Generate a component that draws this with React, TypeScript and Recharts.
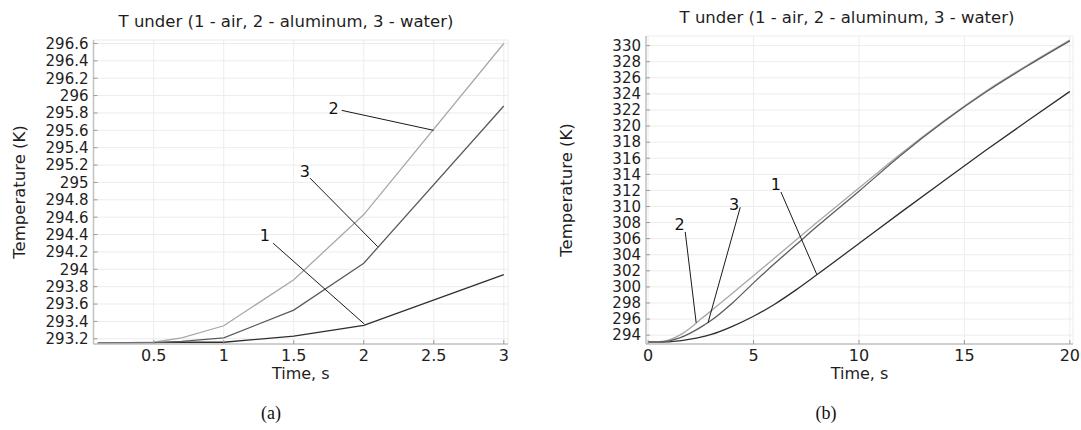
import { LineChart, Line, XAxis, YAxis, CartesianGrid, ReferenceLine, ReferenceDot } from "recharts";

// (a) first 3 s
const timeA = [0.1, 0.5, 0.7, 1, 1.5, 2, 3];
const airA = [293.15, 293.155, 293.16, 293.16, 293.23, 293.355, 293.94];
const aluminumA = [293.15, 293.16, 293.21, 293.35, 293.88, 294.63, 296.6];
const waterA = [293.15, 293.155, 293.17, 293.21, 293.53, 294.07, 295.88];

// (b) full 20 s
const timeB = [0, 0.5, 1, 1.5, 2, 2.5, 3, 4, 5, 6, 7, 8, 10, 12, 14, 16, 18, 20];
const airB = [293.15, 293.15, 293.17, 293.3, 293.5, 293.75, 294.1, 295.1, 296.35, 297.85, 299.6, 301.5, 305.4, 309.3, 313.15, 316.95, 320.65, 324.3];
const aluminumB = [293.15, 293.18, 293.4, 294.0, 294.9, 296.0, 297.05, 299.2, 301.4, 303.6, 305.8, 308.0, 312.3, 316.6, 320.6, 324.3, 327.6, 330.7];
const waterB = [293.15, 293.16, 293.3, 293.65, 294.25, 295.0, 295.85, 298.0, 300.5, 302.9, 305.2, 307.5, 311.9, 316.4, 320.5, 324.2, 327.5, 330.6];

const xTicksA = [0.5, 1, 1.5, 2, 2.5, 3];
const yTicksA = [293.2, 293.4, 293.6, 293.8, 294, 294.2, 294.4, 294.6, 294.8, 295, 295.2, 295.4, 295.6, 295.8, 296, 296.2, 296.4, 296.6];
const xTicksB = [0, 5, 10, 15, 20];
const yTicksB = [294, 296, 298, 300, 302, 304, 306, 308, 310, 312, 314, 316, 318, 320, 322, 324, 326, 328, 330];

// curve numbers and their leader lines (data coords: [t, T])
const curveNames = ["1", "2", "3"];
const labelPosA = [[1.294, 294.39], [1.785, 295.85], [1.58, 295.13]];
const leaderA = [
  [[1.353, 294.3], [2.004, 293.37]],
  [[1.842, 295.83], [2.499, 295.6]],
  [[1.616, 295.05], [2.1, 294.26]],
];
const labelPosB = [[6.06, 312.7], [1.49, 307.8], [4.08, 310.3]];
const leaderB = [
  [[6.3, 311.8], [8.0, 301.55]],
  [[1.76, 306.83], [2.28, 295.54]],
  [[4.37, 309.9], [2.84, 295.54]],
];

const TITLE = "T under (1 - air, 2 - aluminum, 3 - water)";
const FONT = "'DejaVu Sans', sans-serif";
const AXIS = "#c2c2c2";
const colors = ["#2e2e2e", "#a8a8a8", "#5c5c5c"];

function buildRows(t: number[], a: number[], b: number[], c: number[]) {
  return t.map((v, i) => ({ t: v, air: a[i], aluminum: b[i], water: c[i] }));
}

const fmtA = (v: number) => String(Number(v.toFixed(1)));

interface PanelProps {
  left: number;
  width: number;
  rows: any[];
  xDomain: [number, number];
  yDomain: [number, number];
  xTicks: number[];
  yTicks: number[];
  yAxisWidth: number;
  top: number;
  right: number;
  yLabelOffset: number;
  yFmt?: (v: number) => string;
  labels: number[][];
  leaders: number[][][];
  curve: "linear" | "monotone";
}

function Panel(p: PanelProps) {
  const tickStyle = { fill: "#1e1e1e", fontSize: 15, fontFamily: FONT };
  return (
    <div style={{ position: "absolute", left: p.left, top: 0 }}>
      <LineChart
        width={p.width}
        height={430}
        data={p.rows}
        margin={{ top: p.top, right: p.right, left: 0, bottom: 46 }}
      >
        <CartesianGrid stroke="#ececec" />
        <XAxis
          dataKey="t"
          type="number"
          domain={p.xDomain}
          ticks={p.xTicks}
          allowDataOverflow
          interval={0}
          height={40}
          tickSize={-4}
          tickMargin={10}
          axisLine={{ stroke: AXIS, strokeWidth: 1.5 }}
          tickLine={{ stroke: "#9a9a9a" }}
          tick={{ ...tickStyle, fontSize: 16 }}
          label={{ value: "Time, s", position: "insideBottom", offset: 5, fill: "#1e1e1e", fontSize: 16, fontFamily: FONT }}
        />
        <XAxis
          xAxisId="top"
          orientation="top"
          type="number"
          domain={p.xDomain}
          ticks={p.xTicks}
          allowDataOverflow
          interval={0}
          height={0}
          tick={false}
          tickSize={-4}
          axisLine={{ stroke: AXIS, strokeWidth: 1.5 }}
          tickLine={{ stroke: "#9a9a9a" }}
        />
        <YAxis
          type="number"
          domain={p.yDomain}
          ticks={p.yTicks}
          allowDataOverflow
          interval={0}
          width={p.yAxisWidth}
          tickSize={-4}
          tickMargin={9}
          tickFormatter={p.yFmt}
          axisLine={{ stroke: AXIS, strokeWidth: 1.5 }}
          tickLine={{ stroke: "#9a9a9a" }}
          tick={tickStyle}
          label={{
            value: "Temperature (K)",
            angle: -90,
            position: "insideLeft",
            offset: p.yLabelOffset,
            fill: "#1e1e1e",
            fontSize: 16.5,
            fontFamily: FONT,
            style: { textAnchor: "middle" },
          }}
        />
        <YAxis
          yAxisId="right"
          orientation="right"
          type="number"
          domain={p.yDomain}
          ticks={p.yTicks}
          allowDataOverflow
          interval={0}
          width={0}
          tick={false}
          tickSize={-4}
          axisLine={{ stroke: AXIS, strokeWidth: 1.5 }}
          tickLine={{ stroke: "#9a9a9a" }}
        />
        <Line type={p.curve} dataKey="air" stroke={colors[0]} strokeWidth={1.3} dot={false} isAnimationActive={false} />
        <Line type={p.curve} dataKey="aluminum" stroke={colors[1]} strokeWidth={1.3} dot={false} isAnimationActive={false} />
        <Line type={p.curve} dataKey="water" stroke={colors[2]} strokeWidth={1.3} dot={false} isAnimationActive={false} />
        {p.leaders.map((seg, i) => (
          <ReferenceLine
            key={"l" + i}
            segment={[{ x: seg[0][0], y: seg[0][1] }, { x: seg[1][0], y: seg[1][1] }]}
            stroke="#1a1a1a"
            strokeWidth={1}
            ifOverflow="visible"
          />
        ))}
        {p.labels.map((pos, i) => (
          <ReferenceDot
            key={"d" + i}
            x={pos[0]}
            y={pos[1]}
            r={0}
            fill="none"
            stroke="none"
            ifOverflow="visible"
            label={{ value: curveNames[i], position: "center", fill: "#111", fontSize: 16, fontFamily: FONT }}
          />
        ))}
      </LineChart>
    </div>
  );
}

const titleStyle: React.CSSProperties = {
  position: "absolute",
  transform: "translate(-50%, -50%)",
  fontFamily: FONT,
  fontSize: 16.5,
  color: "#1e1e1e",
  whiteSpace: "nowrap",
};

const captionStyle: React.CSSProperties = {
  position: "absolute",
  transform: "translate(-50%, -50%)",
  fontFamily: "'Liberation Serif', 'Times New Roman', serif",
  fontSize: 18,
  color: "#111",
};

export default function App() {
  const rowsA = buildRows(timeA, airA, aluminumA, waterA);
  const rowsB = buildRows(timeB, airB, aluminumB, waterB);
  return (
    <div style={{ position: "absolute", left: 0, top: 0, width: 1081, height: 430, background: "#fff", overflow: "hidden" }}>
      <Panel
        left={0}
        width={540}
        rows={rowsA}
        xDomain={[0.07, 3.03]}
        yDomain={[293.14, 296.64]}
        xTicks={xTicksA}
        yTicks={yTicksA}
        yAxisWidth={93.5}
        top={40}
        right={32}
        yLabelOffset={19}
        yFmt={fmtA}
        labels={labelPosA}
        leaders={leaderA}
        curve="linear"
      />
      <Panel
        left={540}
        width={541}
        rows={rowsB}
        xDomain={[-0.1, 20.15]}
        yDomain={[292.9, 331.2]}
        xTicks={xTicksB}
        yTicks={yTicksB}
        yAxisWidth={106}
        top={36}
        right={8}
        yLabelOffset={26}
        labels={labelPosB}
        leaders={leaderB}
        curve="monotone"
      />
      <div style={{ ...titleStyle, left: 286, top: 21 }}>{TITLE}</div>
      <div style={{ ...titleStyle, left: 847, top: 17 }}>{TITLE}</div>
      <div style={{ ...captionStyle, left: 271, top: 413 }}>(a)</div>
      <div style={{ ...captionStyle, left: 826, top: 413 }}>(b)</div>
    </div>
  );
}
